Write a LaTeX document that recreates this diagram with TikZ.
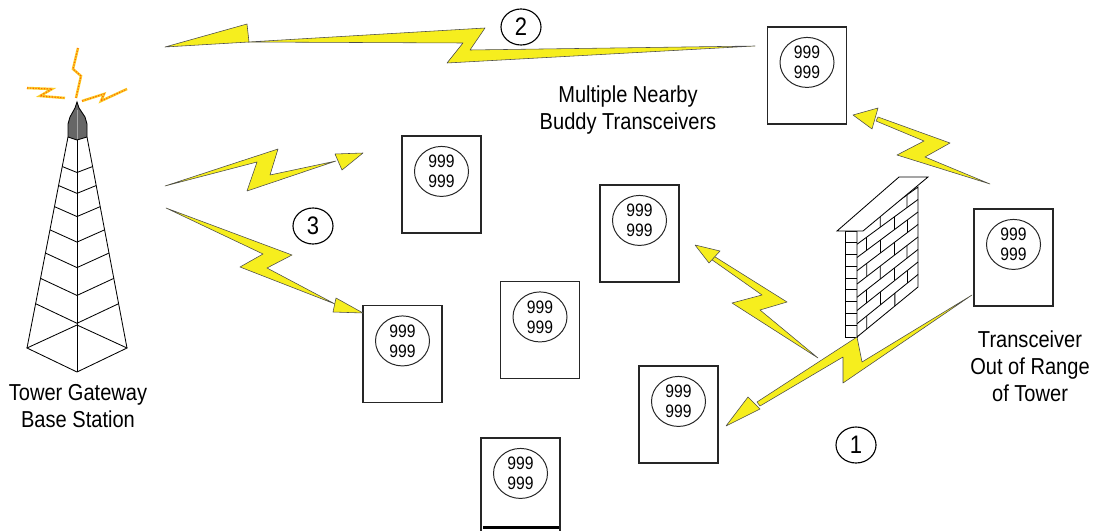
\documentclass[tikz,border=0pt]{standalone}
\usepackage{fontspec}
\setmainfont{Liberation Sans}[FakeStretch=0.87]
\usepackage{tikz}
\usetikzlibrary{shapes.geometric,calc}

\definecolor{boltyellow}{RGB}{246,238,30}
\definecolor{radioyellow}{RGB}{250,205,40}

\begin{document}
\begin{tikzpicture}[x=0.025cm, y=-0.025cm,
    meter/.style={rectangle, draw=black!85, line width=0.8pt, minimum width=1.975cm, minimum height=2.425cm, inner sep=0pt},
    dial/.style={ellipse, draw=black!85, line width=0.7pt, minimum width=1.35cm, minimum height=1.25cm, inner sep=0pt, align=center, font=\fontsize{12.8}{14.2}\selectfont},
    callout/.style={ellipse, draw=black, line width=0.8pt, minimum width=1.0cm, minimum height=0.9cm, inner sep=0pt, font=\fontsize{18}{18}\selectfont},
    caption/.style={align=center, font=\fontsize{16.4}{19.2}\selectfont},
    bolt/.style={draw=black!70, line width=0.4pt, fill=boltyellow, line join=round},
    tower/.style={draw=black, line width=0.6pt},
    radio/.style={draw=radioyellow, line width=1.8pt, postaction={draw=orange!80!red, line width=0.8pt, dash pattern=on 0.9pt off 1.1pt}}
]
    \useasboundingbox (0,0) rectangle (1102,531);

    % tower
    \coordinate (lt) at (68,137);  \coordinate (lb) at (27,348);
    \coordinate (ft) at (77,140);  \coordinate (fb) at (77,372);
    \coordinate (rt) at (87,137);  \coordinate (rb) at (127,348);
    \coordinate (bk) at (77,325);
    \draw[tower] (lt) -- (lb);
    \draw[tower] (ft) -- (fb);
    \draw[tower] (rt) -- (rb);
    \draw[tower] (lb) -- (fb) -- (rb) -- (bk) -- cycle;
    \foreach \t in {0.14,0.23,0.33,0.44,0.55,0.67,0.79} {
        \draw[tower] ($(lt)!\t!(lb)$) -- ($(ft)!\t!(fb)$) -- ($(rt)!\t!(rb)$);
    }
    \draw[tower, fill=black!60] (77,102) -- (79,108) -- (85,117) -- (87,124) -- (87,137) -- (77,140)
        -- (68,137) -- (68,124) -- (70,117) -- (75,108) -- cycle;
    \draw[black!35, line width=0.5pt] (77,110) -- (77,139);

    % radio waves off the top
    \draw[radio] (78,48) -- (73,69) -- (81,76) -- (76,98);
    \draw[radio] (27,88) -- (52,89) -- (40,96) -- (65,98);
    \draw[radio] (82,101) -- (104,94) -- (101,101) -- (127,89);

    \node[caption] (towerlabel) at (78,406) {Tower Gateway\\Base Station};

    % meters
    \foreach \n/\x/\y in {1/807/75.5, 2/441.5/184.5, 3/639.5/233.5, 4/1013.5/257.5,
                          5/402.5/354, 6/540/330, 7/678.5/414.5, 8/520.5/486.5} {
        \node[meter] (m\n) at (\x,\y) {};
        \node[dial] (d\n) at ($(m\n.north)+(0,36)$) {999\\999};
    }
    \draw[line width=1.6pt] ($(m8.south west)+(3,-8)$) -- ($(m8.south east)+(-2,-8)$);

    \node[caption] (buddylabel) at (628,110) {Multiple Nearby\\Buddy Transceivers};
    \node[caption] (outlabel) at (1030,366) {Transceiver\\Out of Range\\of Tower};

    % wall
    \coordinate (wtl) at (857,231); \coordinate (wtr) at (918,187);
    \coordinate (wbr) at (918,287); \coordinate (wbl) at (857,337);
    \draw[tower, fill=white] (845,231) rectangle (857,337);
    \foreach \i in {1,...,8} {
        \draw[tower] (845,{231+\i*11.78}) -- (857,{231+\i*11.78});
    }
    \draw[tower, fill=white] (wtl) -- (wtr) -- (wbr) -- (wbl) -- cycle;
    \foreach \i in {1,...,7} {
        \draw[tower] ($(wtl)!\i/8!(wbl)$) -- ($(wtr)!\i/8!(wbr)$);
    }
    \foreach \r in {0,...,7} {
        \pgfmathtruncatemacro{\odd}{mod(\r,2)}
        \ifnum\odd=0 \def\joints{0.38,0.82}\else\def\joints{0.16,0.62}\fi
        \foreach \s in \joints {
            \draw[tower] ($($(wtl)!\r/8!(wbl)$)!\s!($(wtr)!\r/8!(wbr)$)$)
                      -- ($($(wtl)!\r/8+1/8!(wbl)$)!\s!($(wtr)!\r/8+1/8!(wbr)$)$);
        }
    }
    \draw[tower, fill=white] (837,231) -- (863,231) -- (928,177) -- (899,177) -- cycle;

    % link 2: far buddy back to the tower
    \draw[bolt] (248,42) -- (485,28) -- (470,50) -- (755,46) -- (447,63) -- (463,43) -- cycle;
    \draw[bolt] (165,47) -- (247,24) -- (249,42) -- cycle;

    % link 3: tower to the near meters
    \draw[bolt] (165,186) -- (278,149) -- (270,175) -- (336,161) -- (247,191) -- (257,162) -- cycle;
    \draw[bolt] (363,153) -- (335,154) -- (342,170) -- cycle;
    \draw[bolt] (166,208) -- (292,255) -- (267,268) -- (335,304) -- (240,267) -- (263,254) -- cycle;
    \draw[bolt] (363,313) -- (336,298) -- (333,312) -- cycle;

    % link 1: out of range meter hops round the wall
    \draw[bolt] (972,295) -- (862,362) -- (857,337) -- (757,402) -- (760,406) -- (843,357) -- (843,383) -- cycle;
    \draw[bolt] (726,426) -- (748,397) -- (760,409) -- cycle;
    \draw[bolt] (818,358) -- (732,303) -- (762,295) -- (708,257) -- (712,255) -- (787,302) -- (760,310) -- cycle;
    \draw[bolt] (695,245) -- (720,251) -- (709,263) -- cycle;
    \draw[bolt] (990,184) -- (897,155) -- (924,141) -- (876,121) -- (878,117) -- (950,143) -- (925,157) -- cycle;
    \draw[bolt] (853,115) -- (878,108) -- (872,129) -- cycle;

    \node[callout] (c1) at (856,445) {1};
    \node[callout] (c2) at (521,27) {2};
    \node[callout] (c3) at (313,226) {3};
\end{tikzpicture}
\end{document}
